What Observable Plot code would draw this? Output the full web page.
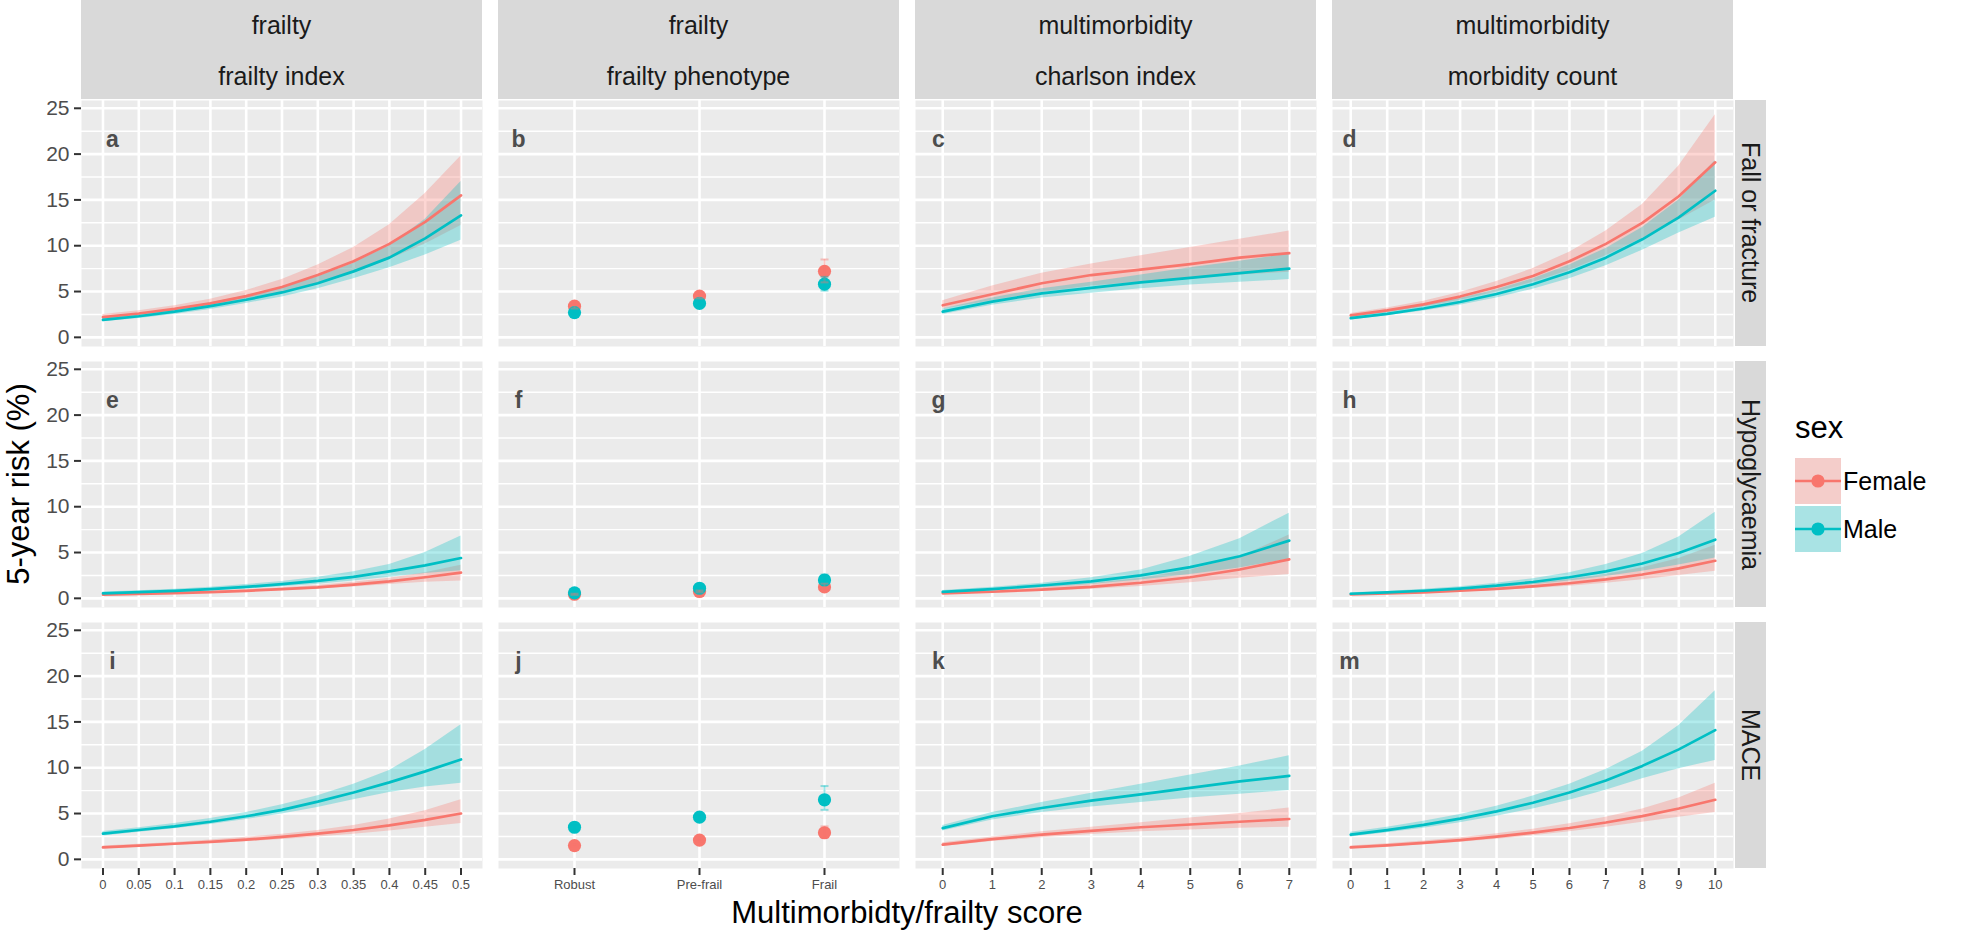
<!DOCTYPE html>
<html>
<head>
<meta charset="utf-8">
<script src="https://cdn.jsdelivr.net/npm/d3@7"></script>
<script src="https://cdn.jsdelivr.net/npm/@observablehq/plot@0.6"></script>
<style>
html,body{margin:0;padding:0;background:#fff;}
#chart{position:relative;width:1976px;height:933px;overflow:hidden;font-family:"Liberation Sans",Arial,Helvetica,sans-serif;background:#fff;}
.abs{position:absolute;}
.strip{position:absolute;background:#D9D9D9;color:#1A1A1A;font-size:25px;}
.strip .ln{position:absolute;left:0;right:0;text-align:center;white-space:nowrap;}
.rstrip{position:absolute;background:#D9D9D9;color:#1A1A1A;font-size:25px;display:flex;align-items:center;justify-content:center;}
.rstrip span{writing-mode:vertical-rl;white-space:nowrap;}
</style>
</head>
<body>
<div id="chart"></div>
<script>
// ---------- categories / labels ----------
const sexes = ["Female", "Male"];
const sexColors = ["#F8766D", "#00BFC4"];
const outcomes = ["Fall or fracture", "Hypoglycaemia", "MACE"];
const domainLabels = ["frailty", "frailty", "multimorbidity", "multimorbidity"];
const measureLabels = ["frailty index", "frailty phenotype", "charlson index", "morbidity count"];
const panelLetters = [["a", "b", "c", "d"], ["e", "f", "g", "h"], ["i", "j", "k", "m"]];
const yMajor = [0, 5, 10, 15, 20, 25];
const yMinor = [2.5, 7.5, 12.5, 17.5, 22.5];
const fiX = [0, 0.05, 0.1, 0.15, 0.2, 0.25, 0.3, 0.35, 0.4, 0.45, 0.5];
const fiTickLabels = ["0", "0.05", "0.1", "0.15", "0.2", "0.25", "0.3", "0.35", "0.4", "0.45", "0.5"];
const fpCats = ["Robust", "Pre-frail", "Frail"];
const ciX = [0, 1, 2, 3, 4, 5, 6, 7];
const mcX = [0, 1, 2, 3, 4, 5, 6, 7, 8, 9, 10];

// ---------- a: frailty index, fall or fracture ----------
const aFemale   = [2.2, 2.6, 3.1, 3.7, 4.5, 5.5, 6.8, 8.3, 10.2, 12.6, 15.5];
const aFemaleLo = [1.95, 2.3, 2.75, 3.3, 3.95, 4.8, 5.8, 7.0, 8.5, 10.2, 12.2];
const aFemaleHi = [2.5, 2.9, 3.45, 4.15, 5.1, 6.3, 7.9, 9.8, 12.3, 15.7, 19.8];
const aMale     = [1.9, 2.3, 2.8, 3.4, 4.1, 4.9, 5.9, 7.2, 8.7, 10.8, 13.3];
const aMaleLo   = [1.7, 2.05, 2.5, 3.05, 3.7, 4.4, 5.3, 6.4, 7.6, 9.0, 10.6];
const aMaleHi   = [2.1, 2.55, 3.1, 3.75, 4.55, 5.45, 6.6, 8.1, 10.0, 12.9, 17.0];
// ---------- e: frailty index, hypoglycaemia ----------
const eFemale   = [0.4, 0.48, 0.57, 0.68, 0.82, 1.0, 1.2, 1.5, 1.85, 2.3, 2.8];
const eFemaleLo = [0.32, 0.39, 0.47, 0.57, 0.69, 0.84, 1.02, 1.25, 1.5, 1.75, 1.9];
const eFemaleHi = [0.5, 0.58, 0.68, 0.8, 0.96, 1.15, 1.4, 1.75, 2.2, 2.8, 3.6];
const eMale     = [0.55, 0.68, 0.82, 1.0, 1.25, 1.55, 1.9, 2.35, 2.95, 3.6, 4.4];
const eMaleLo   = [0.42, 0.55, 0.68, 0.84, 1.03, 1.27, 1.55, 1.9, 2.3, 2.7, 3.0];
const eMaleHi   = [0.7, 0.82, 0.98, 1.2, 1.5, 1.85, 2.3, 2.9, 3.7, 5.0, 6.8];
// ---------- i: frailty index, MACE ----------
const iFemale   = [1.3, 1.5, 1.7, 1.9, 2.15, 2.45, 2.8, 3.2, 3.7, 4.3, 5.0];
const iFemaleLo = [1.15, 1.33, 1.53, 1.72, 1.93, 2.17, 2.45, 2.75, 3.1, 3.5, 3.9];
const iFemaleHi = [1.45, 1.65, 1.85, 2.1, 2.4, 2.75, 3.15, 3.7, 4.4, 5.3, 6.5];
const iMale     = [2.8, 3.2, 3.6, 4.1, 4.7, 5.4, 6.3, 7.3, 8.4, 9.6, 10.9];
const iMaleLo   = [2.55, 2.95, 3.35, 3.8, 4.35, 4.95, 5.65, 6.5, 7.3, 7.9, 8.3];
const iMaleHi   = [3.05, 3.45, 3.9, 4.45, 5.1, 5.95, 6.95, 8.2, 9.7, 12.0, 14.7];

// ---------- b / f / j: frailty phenotype (Robust, Pre-frail, Frail) ----------
const bFemale = [3.4, 4.5, 7.2], bFemaleLo = [3.15, 4.25, 6.0], bFemaleHi = [3.65, 4.75, 8.5];
const bMale   = [2.7, 3.7, 5.8], bMaleLo   = [2.55, 3.5, 5.1],  bMaleHi   = [2.85, 3.9, 6.6];
const fFemale = [0.45, 0.75, 1.25], fFemaleLo = [0.38, 0.65, 0.95], fFemaleHi = [0.52, 0.85, 1.6];
const fMale   = [0.6, 1.1, 2.0],    fMaleLo   = [0.52, 1.0, 1.55],  fMaleHi   = [0.7, 1.2, 2.6];
const jFemale = [1.5, 2.1, 2.9], jFemaleLo = [1.35, 1.9, 2.35], jFemaleHi = [1.65, 2.3, 3.6];
const jMale   = [3.5, 4.6, 6.5], jMaleLo   = [3.25, 4.3, 5.4],  jMaleHi   = [3.75, 4.9, 8.0];

// ---------- c: charlson index, fall or fracture ----------
const cFemale   = [3.5, 4.7, 5.9, 6.8, 7.4, 8.0, 8.7, 9.2];
const cFemaleLo = [3.1, 4.0, 4.9, 5.6, 6.0, 6.4, 6.8, 7.1];
const cFemaleHi = [4.0, 5.6, 7.0, 8.0, 8.9, 9.8, 10.7, 11.6];
const cMale     = [2.8, 3.9, 4.8, 5.4, 6.0, 6.5, 7.0, 7.5];
const cMaleLo   = [2.5, 3.5, 4.3, 4.8, 5.3, 5.7, 6.0, 6.3];
const cMaleHi   = [3.1, 4.3, 5.3, 6.0, 6.8, 7.6, 8.3, 9.1];
// ---------- g: charlson index, hypoglycaemia ----------
const gFemale   = [0.55, 0.72, 0.95, 1.25, 1.7, 2.3, 3.15, 4.25];
const gFemaleLo = [0.44, 0.58, 0.76, 1.0, 1.3, 1.7, 2.2, 2.6];
const gFemaleHi = [0.68, 0.9, 1.2, 1.6, 2.2, 3.1, 4.5, 6.9];
const gMale     = [0.7, 1.0, 1.4, 1.85, 2.5, 3.4, 4.6, 6.3];
const gMaleLo   = [0.57, 0.83, 1.15, 1.5, 2.0, 2.6, 3.3, 4.3];
const gMaleHi   = [0.85, 1.2, 1.65, 2.25, 3.1, 4.6, 6.5, 9.3];
// ---------- k: charlson index, MACE ----------
const kFemale   = [1.6, 2.2, 2.7, 3.1, 3.5, 3.8, 4.1, 4.4];
const kFemaleLo = [1.4, 1.95, 2.35, 2.7, 3.0, 3.2, 3.4, 3.5];
const kFemaleHi = [1.8, 2.45, 3.0, 3.5, 4.0, 4.5, 5.0, 5.6];
const kMale     = [3.4, 4.7, 5.6, 6.4, 7.1, 7.8, 8.5, 9.1];
const kMaleLo   = [3.1, 4.3, 5.1, 5.7, 6.2, 6.7, 7.1, 7.5];
const kMaleHi   = [3.7, 5.1, 6.2, 7.2, 8.2, 9.2, 10.2, 11.3];

// ---------- d: morbidity count, fall or fracture ----------
const dFemale   = [2.4, 2.95, 3.6, 4.45, 5.5, 6.7, 8.3, 10.2, 12.5, 15.4, 19.1];
const dFemaleLo = [2.2, 2.7, 3.3, 4.05, 4.95, 6.0, 7.3, 8.9, 10.8, 12.8, 15.0];
const dFemaleHi = [2.6, 3.2, 3.95, 4.9, 6.1, 7.5, 9.3, 11.6, 14.5, 18.7, 24.3];
const dMale     = [2.1, 2.57, 3.15, 3.86, 4.73, 5.8, 7.1, 8.7, 10.7, 13.1, 16.0];
const dMaleLo   = [1.9, 2.35, 2.87, 3.5, 4.3, 5.25, 6.4, 7.8, 9.5, 11.4, 13.1];
const dMaleHi   = [2.3, 2.8, 3.45, 4.25, 5.2, 6.4, 7.9, 9.7, 12.0, 15.0, 19.3];
// ---------- h: morbidity count, hypoglycaemia ----------
const hFemale   = [0.42, 0.53, 0.66, 0.83, 1.04, 1.31, 1.65, 2.07, 2.6, 3.27, 4.1];
const hFemaleLo = [0.35, 0.44, 0.55, 0.69, 0.86, 1.07, 1.33, 1.65, 2.03, 2.5, 2.95];
const hFemaleHi = [0.5, 0.63, 0.79, 1.0, 1.26, 1.6, 2.05, 2.6, 3.35, 4.35, 5.8];
const hMale     = [0.5, 0.64, 0.83, 1.07, 1.38, 1.78, 2.3, 2.95, 3.8, 4.95, 6.4];
const hMaleLo   = [0.42, 0.54, 0.7, 0.9, 1.15, 1.47, 1.88, 2.38, 2.95, 3.65, 4.4];
const hMaleHi   = [0.6, 0.76, 0.98, 1.27, 1.65, 2.15, 2.8, 3.7, 4.9, 6.7, 9.4];
// ---------- m: morbidity count, MACE ----------
const mFemale   = [1.3, 1.53, 1.79, 2.1, 2.48, 2.91, 3.42, 4.02, 4.72, 5.55, 6.5];
const mFemaleLo = [1.15, 1.35, 1.58, 1.86, 2.2, 2.57, 3.0, 3.5, 4.05, 4.6, 5.1];
const mFemaleHi = [1.45, 1.7, 2.0, 2.35, 2.78, 3.28, 3.88, 4.6, 5.5, 6.7, 8.3];
const mMale     = [2.7, 3.19, 3.76, 4.44, 5.24, 6.18, 7.3, 8.6, 10.2, 12.0, 14.1];
const mMaleLo   = [2.45, 2.9, 3.4, 4.0, 4.7, 5.5, 6.45, 7.55, 8.8, 9.9, 10.8];
const mMaleHi   = [2.95, 3.5, 4.15, 4.9, 5.8, 6.9, 8.2, 9.8, 11.8, 14.6, 18.4];

// ---------- tables built from the arrays ----------
const panelSeries = {
  a: [aFemale, aFemaleLo, aFemaleHi, aMale, aMaleLo, aMaleHi],
  e: [eFemale, eFemaleLo, eFemaleHi, eMale, eMaleLo, eMaleHi],
  i: [iFemale, iFemaleLo, iFemaleHi, iMale, iMaleLo, iMaleHi],
  b: [bFemale, bFemaleLo, bFemaleHi, bMale, bMaleLo, bMaleHi],
  f: [fFemale, fFemaleLo, fFemaleHi, fMale, fMaleLo, fMaleHi],
  j: [jFemale, jFemaleLo, jFemaleHi, jMale, jMaleLo, jMaleHi],
  c: [cFemale, cFemaleLo, cFemaleHi, cMale, cMaleLo, cMaleHi],
  g: [gFemale, gFemaleLo, gFemaleHi, gMale, gMaleLo, gMaleHi],
  k: [kFemale, kFemaleLo, kFemaleHi, kMale, kMaleLo, kMaleHi],
  d: [dFemale, dFemaleLo, dFemaleHi, dMale, dMaleLo, dMaleHi],
  h: [hFemale, hFemaleLo, hFemaleHi, hMale, hMaleLo, hMaleHi],
  m: [mFemale, mFemaleLo, mFemaleHi, mMale, mMaleLo, mMaleHi]
};
const columnX = [fiX, fpCats, ciX, mcX];

function rowsFor(letter, xs) {
  const s = panelSeries[letter];
  const out = [];
  sexes.forEach((sex, k) => {
    xs.forEach((x, idx) => {
      out.push({sex, x, est: s[k * 3][idx], lo: s[k * 3 + 1][idx], hi: s[k * 3 + 2][idx]});
    });
  });
  return out;
}

// ---------- layout (pixels) ----------
const colLeft = [81, 498, 915, 1332];
const panelW = 401;
const rowTop = [100, 361, 622];
const panelH = 246;
const yDomain = [-1.0, 25.85];
const letterDx = [31, 20, 23, 17];
const FONT = "Liberation Sans, Arial, Helvetica, sans-serif";

const chart = document.getElementById("chart");
const colorScale = {domain: sexes, range: sexColors};
// short horizontal cap symbol for error bars
const capSymbol = {draw(ctx) { ctx.moveTo(-4, 0); ctx.lineTo(4, 0); }};

function xScaleFor(c) {
  if (c === 0) return {domain: [-0.03, 0.53]};
  if (c === 1) return {type: "point", domain: fpCats, padding: 0.6};
  if (c === 2) return {domain: [-0.55, 7.55]};
  return {domain: [-0.5, 10.5]};
}

function makePanel(r, c) {
  const letter = panelLetters[r][c];
  const isLeft = c === 0, isBottom = r === 2;
  const mL = isLeft ? 81 : 0, mB = isBottom ? 40 : 0;
  const data = rowsFor(letter, columnX[c]);
  const marks = [
    Plot.frame({fill: "#EBEBEB", stroke: "none"}),
    Plot.ruleY(yMinor, {stroke: "white", strokeWidth: 1.4}),
    Plot.ruleY(yMajor, {stroke: "white", strokeWidth: 2.6}),
    Plot.ruleX(columnX[c], {stroke: "white", strokeWidth: 2.6})
  ];
  if (c === 1) {
    marks.push(
      Plot.dot(data, {x: "x", y: "est", fill: "sex", r: 6.6, stroke: "none"}),
      Plot.ruleX(data, {x: "x", y1: "lo", y2: "hi", stroke: "sex", strokeWidth: 2, strokeOpacity: 0.4}),
      Plot.dot(data, {x: "x", y: "lo", symbol: capSymbol, stroke: "sex", fill: "none", strokeWidth: 2, strokeOpacity: 0.4}),
      Plot.dot(data, {x: "x", y: "hi", symbol: capSymbol, stroke: "sex", fill: "none", strokeWidth: 2, strokeOpacity: 0.4})
    );
  } else {
    marks.push(
      Plot.areaY(data, {x: "x", y1: "lo", y2: "hi", fill: "sex", z: "sex", fillOpacity: 0.3}),
      Plot.lineY(data, {x: "x", y: "est", stroke: "sex", z: "sex", strokeWidth: 2.7})
    );
  }
  marks.push(Plot.text([letter], {
    frameAnchor: "top-left", dx: letterDx[c], dy: 30, text: d => d,
    textAnchor: "middle", fontWeight: "bold", fontSize: 23, fill: "#4D4D4D"
  }));
  const xOpt = Object.assign({label: null}, xScaleFor(c));
  const yOpt = {domain: yDomain, label: null};
  if (isLeft) {
    marks.push(Plot.axisY(yMajor, {tickSize: 7, tickPadding: 5, fontSize: 21, fill: "#4D4D4D", stroke: "#333333", strokeWidth: 2, label: null, tickFormat: d => String(d)}));
  } else {
    yOpt.axis = null;
  }
  if (isBottom) {
    const fmt = c === 0 ? (d => fiTickLabels[fiX.indexOf(d)]) : (d => String(d));
    marks.push(Plot.axisX(columnX[c], {tickSize: 7, tickPadding: 4, fontSize: 13, fill: "#4D4D4D", stroke: "#333333", strokeWidth: 2, label: null, tickFormat: fmt}));
  } else {
    xOpt.axis = null;
  }
  const svg = Plot.plot({
    width: panelW + mL,
    height: panelH + mB,
    marginLeft: mL, marginRight: 0, marginTop: 0, marginBottom: mB,
    x: xOpt, y: yOpt, color: colorScale,
    symbol: {type: "identity"},
    style: {fontFamily: FONT, background: "transparent", overflow: "visible"},
    marks
  });
  svg.style.position = "absolute";
  svg.style.left = (colLeft[c] - mL) + "px";
  svg.style.top = rowTop[r] + "px";
  chart.appendChild(svg);
}

for (let r = 0; r < 3; r++) for (let c = 0; c < 4; c++) {
  try { makePanel(r, c); } catch (e) { console.error(e); }
}

// ---------- top strips ----------
for (let c = 0; c < 4; c++) {
  const s = document.createElement("div");
  s.className = "strip";
  s.style.left = colLeft[c] + "px";
  s.style.top = "0px";
  s.style.width = panelW + "px";
  s.style.height = "99px";
  const l1 = document.createElement("div");
  l1.className = "ln"; l1.style.top = "11px"; l1.textContent = domainLabels[c];
  const l2 = document.createElement("div");
  l2.className = "ln"; l2.style.top = "62px"; l2.textContent = measureLabels[c];
  s.appendChild(l1); s.appendChild(l2);
  chart.appendChild(s);
}
// ---------- right strips ----------
for (let r = 0; r < 3; r++) {
  const s = document.createElement("div");
  s.className = "rstrip";
  s.style.left = "1735px";
  s.style.top = rowTop[r] + "px";
  s.style.width = "31px";
  s.style.height = panelH + "px";
  const sp = document.createElement("span");
  sp.textContent = outcomes[r];
  s.appendChild(sp);
  chart.appendChild(s);
}

// ---------- axis titles ----------
const yTitle = document.createElement("div");
yTitle.className = "abs";
yTitle.textContent = "5-year risk (%)";
Object.assign(yTitle.style, {left: "19px", top: "484px", transform: "translate(-50%,-50%) rotate(-90deg)", whiteSpace: "nowrap", fontSize: "31px", color: "#000"});
chart.appendChild(yTitle);

const xTitle = document.createElement("div");
xTitle.className = "abs";
xTitle.textContent = "Multimorbidty/frailty score";
Object.assign(xTitle.style, {left: "907px", top: "913px", transform: "translate(-50%,-50%)", whiteSpace: "nowrap", fontSize: "31px", color: "#000"});
chart.appendChild(xTitle);

// ---------- legend ----------
const legTitle = document.createElement("div");
legTitle.className = "abs";
legTitle.textContent = "sex";
Object.assign(legTitle.style, {left: "1795px", top: "428px", transform: "translateY(-50%)", fontSize: "31px", color: "#000"});
chart.appendChild(legTitle);

const keySize = 46;
const leg = d3.select(chart).append("svg")
  .attr("width", 60).attr("height", 2 * keySize + 4)
  .style("position", "absolute").style("left", "1793px").style("top", "458px");
sexes.forEach((sex, k) => {
  const g = leg.append("g").attr("transform", `translate(2,${k * (keySize + 2)})`);
  g.append("rect").attr("width", keySize).attr("height", keySize).attr("fill", "#F2F2F2");
  g.append("rect").attr("width", keySize).attr("height", keySize).attr("fill", sexColors[k]).attr("fill-opacity", 0.3);
  g.append("line").attr("x1", 0).attr("x2", keySize).attr("y1", keySize / 2).attr("y2", keySize / 2)
    .attr("stroke", sexColors[k]).attr("stroke-width", 2.7);
  g.append("circle").attr("cx", keySize / 2).attr("cy", keySize / 2).attr("r", 6.6).attr("fill", sexColors[k]);
  const t = document.createElement("div");
  t.className = "abs";
  t.textContent = sex;
  Object.assign(t.style, {left: "1843px", top: (458 + k * (keySize + 2) + keySize / 2) + "px", transform: "translateY(-50%)", fontSize: "25px", color: "#000", whiteSpace: "nowrap"});
  chart.appendChild(t);
});
</script>
</body>
</html>
